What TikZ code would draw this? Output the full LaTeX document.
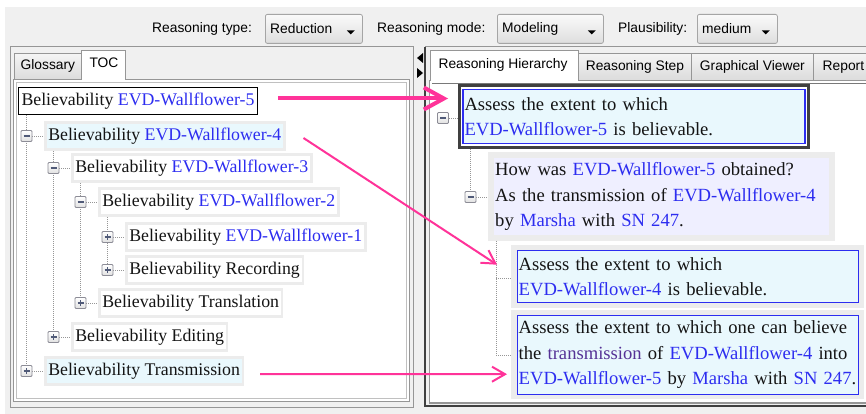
\documentclass[tikz,border=0pt]{standalone}
\usepackage{fontspec}
\setmainfont{Liberation Serif}
\newfontfamily\uifont{Liberation Sans}
\usetikzlibrary{arrows.meta,calc}
\pgfdeclarelayer{panel}
\pgfdeclarelayer{wires}
\pgfsetlayers{panel,wires,main}
\definecolor{winbg}{RGB}{240,240,240}
\definecolor{linkblue}{RGB}{45,45,240}
\definecolor{hlcyan}{RGB}{233,248,253}
\definecolor{lavfill}{RGB}{239,239,255}
\definecolor{framegrey}{RGB}{236,236,236}
\definecolor{arrowpink}{RGB}{255,51,153}
\definecolor{bordgrey}{RGB}{150,150,150}
\definecolor{darkgrey}{RGB}{64,64,64}
\definecolor{purpletext}{RGB}{85,50,150}
\definecolor{tabgrey}{RGB}{225,225,225}
\definecolor{comboborder}{RGB}{165,165,165}
\definecolor{expborder}{RGB}{140,140,150}
\definecolor{expsign}{RGB}{80,90,120}
\definecolor{dotgrey}{RGB}{150,150,150}
\definecolor{textblack}{RGB}{20,20,20}
\newcommand{\lk}[1]{\textcolor{linkblue}{#1}}
\begin{document}
\begin{tikzpicture}[x=1pt,y=-1pt,
  treefont/.style={font=\fontsize{17.8}{20}\selectfont},
  boxfont/.style={font=\fontsize{18.6}{25.5}\selectfont},
  uitext/.style={font=\uifont\fontsize{13.8}{16}\selectfont, text=black},
  treenode/.style={treefont, anchor=west, draw=framegrey, line width=2.5pt, fill=white,
    inner xsep=3pt, inner ysep=0pt, text height=13pt, text depth=4pt, minimum height=27pt, text=textblack},
  treehl/.style={treenode, fill=hlcyan},
  expander/.style={rectangle, draw=expborder, line width=0.8pt, top color=white, bottom color=tabgrey,
    minimum size=11pt, inner sep=0pt, rounded corners=1pt},
  expminus/.style={expander, path picture={\draw[expsign, line width=1.3pt]
    ($(path picture bounding box.center)+(-3,0)$) -- ($(path picture bounding box.center)+(3,0)$);}},
  expplus/.style={expander, path picture={\draw[expsign, line width=1.3pt]
    ($(path picture bounding box.center)+(-3,0)$) -- ($(path picture bounding box.center)+(3,0)$)
    ($(path picture bounding box.center)+(0,-3)$) -- ($(path picture bounding box.center)+(0,3)$);}},
  dotline/.style={draw=dotgrey, line width=0.8pt, dash pattern=on 1pt off 1pt},
  combo/.style={draw=comboborder, rounded corners=2pt, top color=white!98!black, bottom color=white!87!black,
    line width=0.8pt, anchor=north west, inner sep=0pt},
  tabbox/.style={uitext, draw=bordgrey, line width=0.8pt, top color=white!96!black, bottom color=white!86!black,
    anchor=north west, inner sep=0pt},
  bluebox/.style={boxfont, draw=linkblue, line width=1.3pt, fill=hlcyan, align=left, inner xsep=1.5pt, inner ysep=0pt, text=textblack},
  lavbox/.style={boxfont, fill=lavfill, align=left, inner xsep=1pt, inner ysep=0pt, text=textblack},
  outerframe/.style={fill=framegrey, anchor=north west, inner sep=0pt},
  pinkthick/.style={draw=arrowpink, line width=4pt, -{Straight Barb[length=20pt,width=22pt]}},
  pinkthin/.style={draw=arrowpink, line width=2pt, -{Straight Barb[length=13pt,width=15pt]}}
]
\useasboundingbox (0,0) rectangle (866,414);
\begin{pgfonlayer}{panel}
  \fill[white] (0,0) rectangle (866,414);
  \fill[winbg] (5,7) rectangle (866,414);
  % left panel
  \draw[bordgrey, line width=1pt] (10,47) rectangle (413,407);
  \node[tabbox, minimum width=67pt, minimum height=26pt] (tabglos) at (14,53) {Glossary};
  \draw[bordgrey, line width=1.2pt, fill=white] (13.5,79.5) rectangle (409.5,401.5);
  \draw[bordgrey!60, line width=0.8pt] (16.5,82.5) rectangle (406.5,398.5);
  \fill[white] (81,50) rectangle (125,81);
  \draw[bordgrey, line width=0.8pt] (81,80) |- (125,50) -- (125,80);
  \node[uitext] (tabtoc) at (104,63) {TOC};
  % splitter
  \fill[black] (423,53) -- (423,63) -- (417,58) -- cycle;
  \fill[black] (417,68) -- (417,78) -- (423,73) -- cycle;
  % right panel
  \draw[bordgrey, line width=1pt] (425,47) -- (868,47);
  \draw[darkgrey, line width=1.5pt] (425,47) -- (425,406) -- (868,406);
  \node[tabbox, minimum width=113pt, minimum height=27pt] (tabstep) at (578,53) {Reasoning Step};
  \node[tabbox, minimum width=122pt, minimum height=27pt] (tabgraph) at (691,53) {Graphical Viewer};
  \node[tabbox, minimum width=60pt, minimum height=27pt] (tabrep) at (813,53) {Report};
  \draw[bordgrey, line width=1.2pt, fill=white] (429.5,80.5) rectangle (870,403);
  \draw[darkgrey!70, line width=0.8pt] (432,83) -- (870,83);
  \fill[white] (430,50) rectangle (578,82);
  \draw[bordgrey, line width=0.8pt] (430,81) |- (578,50) -- (578,81);
  \node[uitext] (tabhier) at (503,64.5) {Reasoning Hierarchy};
  % toolbar
  \node[uitext, anchor=west, inner sep=0pt] (lbltype) at (152,29) {Reasoning type:};
  \node[combo, minimum width=97pt, minimum height=29pt] (cbtype) at (265,14) {};
  \node[uitext, anchor=west, inner sep=0pt] (vtype) at ($(cbtype.west)+(5,0)$) {Reduction};
  \fill[black] ($(cbtype.east)+(-16,1.5)$) -- ++(8,0) -- ++(-4,4) -- cycle;
  \node[uitext, anchor=west, inner sep=0pt] (lblmode) at (377,29) {Reasoning mode:};
  \node[combo, minimum width=106pt, minimum height=29pt] (cbmode) at (497,14) {};
  \node[uitext, anchor=west, inner sep=0pt] (vmode) at ($(cbmode.west)+(5,0)$) {Modeling};
  \fill[black] ($(cbmode.east)+(-16,1.5)$) -- ++(8,0) -- ++(-4,4) -- cycle;
  \node[uitext, anchor=west, inner sep=0pt] (lblplaus) at (618,29) {Plausibility:};
  \node[combo, minimum width=80pt, minimum height=29pt] (cbplaus) at (697,14) {};
  \node[uitext, anchor=west, inner sep=0pt] (vplaus) at ($(cbplaus.west)+(5,0)$) {medium};
  \fill[black] ($(cbplaus.east)+(-16,1.5)$) -- ++(8,0) -- ++(-4,4) -- cycle;
\end{pgfonlayer}

% ---------- left tree ----------
\node[treenode, draw=black, line width=1pt, minimum height=27pt] (n0) at (18,101) {Believability \lk{EVD-Wallflower-5}};
\node[treehl] (n1) at (44,136) {Believability \lk{EVD-Wallflower-4}};
\node[treenode] (n2) at (71,168) {Believability \lk{EVD-Wallflower-3}};
\node[treenode] (n3) at (98,202) {Believability \lk{EVD-Wallflower-2}};
\node[treenode] (n4) at (125,237) {Believability \lk{EVD-Wallflower-1}};
\node[treenode] (n5) at (125,270) {Believability Recording};
\node[treenode] (n6) at (98,303) {Believability Translation};
\node[treenode] (n7) at (71,337) {Believability Editing};
\node[treehl] (n8) at (44,371) {Believability Transmission};

\node[expminus] (e1) at (26.5,136) {};
\node[expminus] (e2) at (53.5,168) {};
\node[expminus] (e3) at (80.5,202) {};
\node[expplus] (e4) at (107.5,237) {};
\node[expplus] (e5) at (107.5,270) {};
\node[expplus] (e6) at (80.5,303) {};
\node[expplus] (e7) at (53.5,337) {};
\node[expplus] (e8) at (26.5,371) {};

\begin{pgfonlayer}{wires}
  \draw[dotline] (n0.south -| e1) -- (e8);
  \draw[dotline] (n1.south -| e2) -- (e7);
  \draw[dotline] (n2.south -| e3) -- (e6);
  \draw[dotline] (n3.south -| e4) -- (e5);
  \foreach \i in {1,...,8} { \draw[dotline] (e\i.east) -- (n\i.west); }
\end{pgfonlayer}

% ---------- right hierarchy ----------
\node[draw=darkgrey, line width=3pt, fill=white, anchor=north west, inner sep=0pt,
      minimum width=349pt, minimum height=62pt] (f1) at (458,84) {};
\node[bluebox, minimum width=342pt, minimum height=54pt, text width=339pt] (b1) at (f1.center)
  {Assess the extent to which\\\lk{EVD-Wallflower-5} is believable.};

\node[outerframe, minimum width=347pt, minimum height=89pt] (f2) at (488,152) {};
\node[lavbox, minimum width=335pt, minimum height=77pt, text width=333pt] (b2) at (f2.center)
  {How was \lk{EVD-Wallflower-5} obtained?\\As the transmission of \lk{EVD-Wallflower-4}\\by \lk{Marsha} with \lk{SN 247}.};

\node[outerframe, minimum width=353pt, minimum height=63pt] (f3) at (511,245) {};
\node[bluebox, minimum width=341pt, minimum height=52pt, text width=338pt] (b3) at (f3.center)
  {Assess the extent to which\\\lk{EVD-Wallflower-4} is believable.};

\node[outerframe, minimum width=353pt, minimum height=89pt] (f4) at (511,310) {};
\node[bluebox, minimum width=341pt, minimum height=79pt, text width=338pt] (b4) at (f4.center)
  {Assess the extent to which one can believe\\the \textcolor{purpletext}{transmission} of \lk{EVD-Wallflower-4} into\\\lk{EVD-Wallflower-5} by \lk{Marsha} with \lk{SN 247}.};

\node[expminus] (r1) at (443,118) {};
\node[expminus] (r2) at (470.5,197) {};
\coordinate (j3) at (496,278);
\coordinate (j4) at (496,355);

\begin{pgfonlayer}{wires}
  \draw[dotline] (r1.east) -- (r1 -| f1.west);
  \draw[dotline] (f1.south -| r2) -- (r2);
  \draw[dotline] (r2.east) -- (r2 -| f2.west);
  \draw[dotline] (f2.south -| j3) -- (j4) -- (j4 -| f4.west);
  \draw[dotline] (j3) -- (j3 -| f3.west);
\end{pgfonlayer}

% ---------- pink arrows ----------
\draw[pinkthick] ($(n0.east)+(20,-2.5)$) -- ($(f1.west)+(-10,-18)$);
\draw[pinkthin] ($(n1.east)+(18,2)$) -- ($(f3.west)+(-14,-12)$);
\draw[pinkthin] ($(n8.east)+(16,3)$) -- ($(f4.west)+(-4,19.5)$);
\end{tikzpicture}
\end{document}
